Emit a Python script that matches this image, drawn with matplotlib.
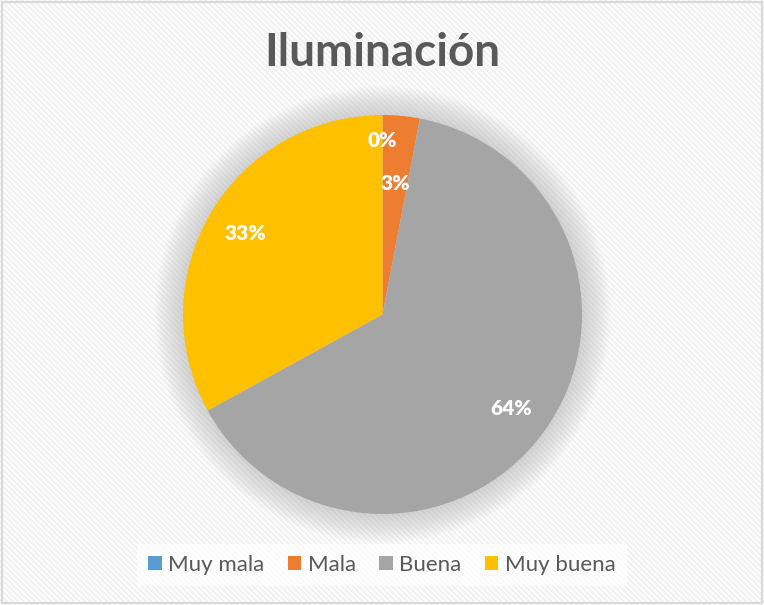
import matplotlib.pyplot as plt
from matplotlib.patches import Rectangle, Circle

categories = ['Muy mala', 'Mala', 'Buena', 'Muy buena']
values = [0, 3, 64, 33]
colors = ['#5B9BD5', '#ED7D31', '#A5A5A5', '#FFC000']
title = 'Iluminación'

plt.rcParams['font.family'] = ['Lato', 'DejaVu Sans']
plt.rcParams['hatch.linewidth'] = 1.6

fig = plt.figure(figsize=(7.64, 6.05), dpi=100)
fig.patch.set_facecolor('white')

# fondo con rayas diagonales y marco
bg = fig.add_axes([0, 0, 1, 1])
bg.set_axis_off()
bg.add_patch(Rectangle((0, 0), 1, 1, facecolor='white', edgecolor='#f1f1f1',
                       hatch='\\\\\\\\\\\\', lw=0, transform=bg.transAxes))
bg.add_patch(Rectangle((0.002, 0.003), 0.996, 0.994, fill=False, edgecolor='#d9d9d9',
                       lw=1.5, transform=bg.transAxes))

ax = fig.add_axes([0.1873, 0.0845, 0.6267, 0.7914])
ax.set_xlim(-1.2, 1.2)
ax.set_ylim(-1.2, 1.2)
ax.set_aspect('equal')
ax.set_axis_off()

# sombra suave alrededor del pastel
for i in range(16):
    r = 1.0 + 0.009 * (16 - i)
    ax.add_patch(Circle((0, 0), r, facecolor='#7f7f7f', edgecolor='none',
                        alpha=0.02, zorder=0))

wedges, texts, autotexts = ax.pie(
    values,
    colors=colors,
    startangle=90,
    counterclock=False,
    autopct='%1.0f%%',
    pctdistance=0.8,
    radius=1.0,
    wedgeprops=dict(linewidth=0, zorder=2),
    textprops=dict(color='white', fontsize=15, fontweight='heavy'),
)
ax.set_xlim(-1.2, 1.2)
ax.set_ylim(-1.2, 1.2)

# etiquetas pequeñas reubicadas como en Excel
for t, scale in zip(autotexts[:2], [0.87 / 0.8, 0.66 / 0.8]):
    x, y = t.get_position()
    t.set_position((x * scale, y * scale))

fig.text(0.5, 0.912, title, ha='center', va='center', fontsize=33,
         fontweight='bold', color='#595959')

leg = fig.legend(wedges, categories, loc='center', bbox_to_anchor=(0.5, 0.066),
                 ncol=4, frameon=True, fontsize=16, handlelength=0.6,
                 handleheight=0.6, handletextpad=0.3, columnspacing=1.05,
                 borderpad=0.5, labelcolor='#595959')
leg.get_frame().set_facecolor('white')
leg.get_frame().set_alpha(0.7)
leg.get_frame().set_edgecolor('none')
leg.get_frame().set_boxstyle('square', pad=0.0)

fig.savefig('out.png', dpi=100)
